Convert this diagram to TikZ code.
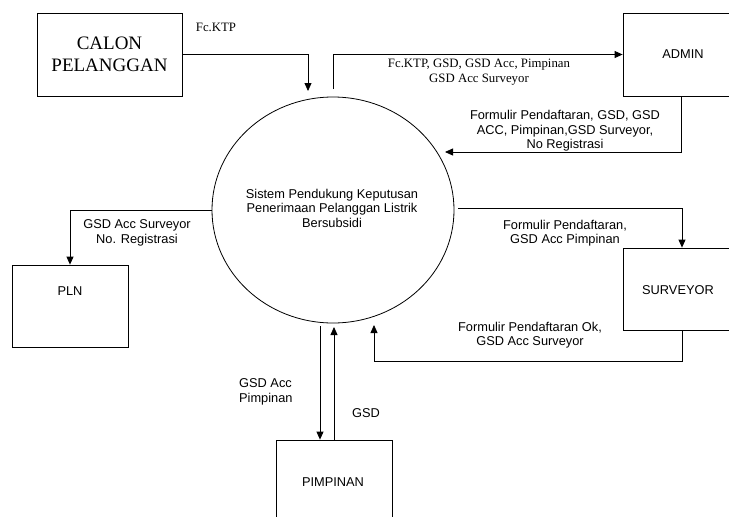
\documentclass[tikz,border=0pt]{standalone}
\usepackage{fontspec}
\setmainfont{Liberation Sans}
\newfontfamily\timesfont{Liberation Serif}
\usetikzlibrary{arrows.meta,shapes.geometric}

\tikzset{
  entity/.style={draw, line width=0.8pt, inner sep=0pt},
  flow/.style={line width=0.8pt, -{Triangle[length=8pt,width=7pt]}},
  lbl/.style={inner sep=0pt, align=center, font=\fontsize{12.8}{14.5}\selectfont},
  serlbl/.style={inner sep=0pt, align=center, font=\timesfont\fontsize{12.8}{15}\selectfont},
}

\begin{document}
\begin{tikzpicture}[x=1pt, y=-1pt]
\clip (0,0) rectangle (729,517);
\fill[white] (0,0) rectangle (729,517);

% process
\node[draw, line width=0.8pt, ellipse, minimum width=242pt, minimum height=226pt, inner sep=0pt]
  (sys) at (333,210) {};
\node[lbl] (systxt) at (332,208)
  {Sistem Pendukung Keputusan\\Penerimaan Pelanggan Listrik\\Bersubsidi};

% external entities
\node[entity, minimum width=145pt, minimum height=83pt,
      font=\timesfont\fontsize{19}{22}\selectfont, align=center]
  (calon) at (109.5,54.5) {CALON\\PELANGGAN};
\node[entity, minimum width=120pt, minimum height=83pt, font=\fontsize{12.8}{14.5}\selectfont]
  (admin) at (683,54.5) {ADMIN};
\node[entity, minimum width=114pt, minimum height=82pt] (surveyor) at (680,289) {};
\node[lbl] (survtxt) at (678,290) {SURVEYOR};
\node[entity, minimum width=116pt, minimum height=82pt] (pln) at (70,306) {};
\node[lbl] (plntxt) at (70,291) {PLN};
\node[entity, minimum width=116pt, minimum height=84pt] (pimpinan) at (334,482) {};
\node[lbl] (pimtxt) at (333,482) {PIMPINAN};

% free ends of the flows
\coordinate (in1) at (308,91);
\coordinate (o1) at (333,89);
\coordinate (in2) at (445,152);
\coordinate (o2) at (458,208);
\coordinate (in3) at (374,325);
\coordinate (o3) at (320,326);
\coordinate (in4) at (334,327);

% flows
\draw[flow] (calon.east) -| (in1);
\draw[flow] (o1) |- (admin.west);
\draw[flow] ([xshift=-2pt]admin.south) |- (in2);
\draw[flow] (sys.west) -| (pln.north);
\draw[flow] (o2) -| ([xshift=2pt]surveyor.north);
\draw[flow] ([xshift=2pt]surveyor.south) -- ++(0,31) -| (in3);
\draw[flow] (o3) -- (o3 |- pimpinan.north);
\draw[flow] (pimpinan.north) -- (in4);

% flow labels
\node[serlbl] (l1) at (216,27) {Fc.KTP};
\node[serlbl] (l2) at (479,72) {Fc.KTP, GSD, GSD Acc, Pimpinan\\GSD Acc Surveyor};
\node[lbl] (l3) at (565,131) {Formulir Pendaftaran, GSD, GSD\\ACC, Pimpinan,GSD Surveyor,\\No Registrasi};
\node[lbl] (l4) at (137,233) {GSD Acc Surveyor\\No. Registrasi};
\node[lbl] (l5) at (565,233) {Formulir Pendaftaran,\\GSD Acc Pimpinan};
\node[lbl] (l6) at (530,335) {Formulir Pendaftaran Ok,\\GSD Acc Surveyor};
\node[lbl, align=left, anchor=west] (l7) at (239,392) {GSD Acc\\Pimpinan};
\node[lbl] (l8) at (366,413) {GSD};
\end{tikzpicture}
\end{document}
